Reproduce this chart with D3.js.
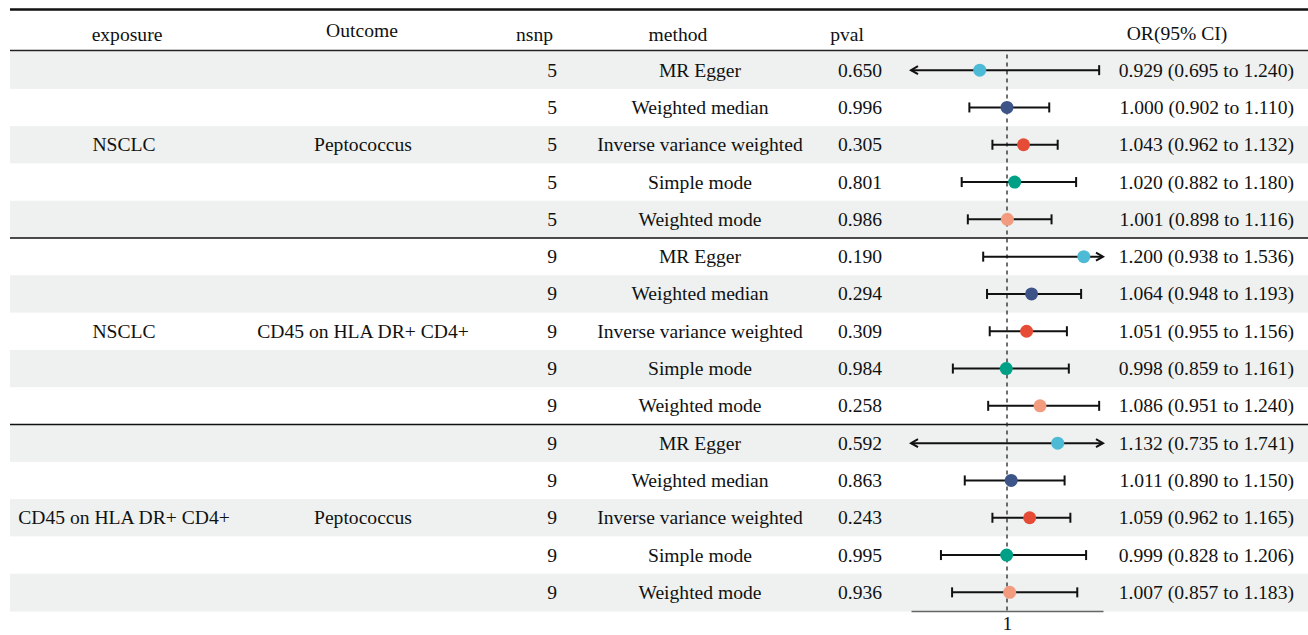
<!DOCTYPE html>
<html>
<head>
<meta charset="utf-8">
<script src="https://cdn.jsdelivr.net/npm/d3@7"></script>
<style>
  body { margin: 0; background: #fff; }
  svg text { font-family: "Liberation Serif", "Times New Roman", serif; fill: #111; }
</style>
</head>
<body>
<svg id="chart" width="1308" height="635"></svg>
<script>
"use strict";

// data
const exposures = ["NSCLC", "NSCLC", "CD45 on HLA DR+ CD4+"];
const outcomes = ["Peptococcus", "CD45 on HLA DR+ CD4+", "Peptococcus"];
const nsnps = [5, 9, 9];
const methods = ["MR Egger", "Weighted median", "Inverse variance weighted", "Simple mode", "Weighted mode"];
const methodColors = ["#4DBBD5", "#3C5488", "#E64B35", "#00A087", "#F39B7F"];

const pvals = [0.650, 0.996, 0.305, 0.801, 0.986,
               0.190, 0.294, 0.309, 0.984, 0.258,
               0.592, 0.863, 0.243, 0.995, 0.936];
const ors   = [0.929, 1.000, 1.043, 1.020, 1.001,
               1.200, 1.064, 1.051, 0.998, 1.086,
               1.132, 1.011, 1.059, 0.999, 1.007];
const lows  = [0.695, 0.902, 0.962, 0.882, 0.898,
               0.938, 0.948, 0.955, 0.859, 0.951,
               0.735, 0.890, 0.962, 0.828, 0.857];
const highs = [1.240, 1.110, 1.132, 1.180, 1.116,
               1.536, 1.193, 1.156, 1.161, 1.240,
               1.741, 1.150, 1.165, 1.206, 1.183];

const xDomain = [0.75, 1.25];

// build rows
let rows = [];
for (let g = 0; g < exposures.length; g++) {
    for (let m = 0; m < methods.length; m++) {
        let i = g * methods.length + m;
        rows.push({
            group: g, method: methods[m], color: methodColors[m], nsnp: nsnps[g],
            p: pvals[i], or: ors[i], lo: lows[i], hi: highs[i]
        });
    }
}

const svg = d3.select("#chart");
const leftX = 10, rightX = 1308;
const topY = 51.5, rowH = 37.3;
const fs = 19.6;

const y = d3.scaleBand().domain(d3.range(rows.length)).range([topY, topY + rowH * rows.length]).padding(0);
const x = d3.scaleLinear().domain(xDomain).range([911, 1103]);
const yc = i => y(i) + y.bandwidth() / 2;

// stripes
svg.append("g").selectAll("rect")
    .data(rows)
    .join("rect")
    .attr("x", leftX)
    .attr("y", (d, i) => y(i))
    .attr("width", rightX - leftX)
    .attr("height", y.bandwidth() + 0.5)
    .attr("fill", (d, i) => i % 2 === 0 ? "#EEF1F0" : "#fff");

// rules
svg.append("line").attr("x1", leftX).attr("x2", rightX).attr("y1", 9.5).attr("y2", 9.5)
    .attr("stroke", "#111").attr("stroke-width", 2.5);
svg.append("line").attr("x1", leftX).attr("x2", rightX).attr("y1", 50.5).attr("y2", 50.5)
    .attr("stroke", "#222").attr("stroke-width", 1.5);
for (let g = 1; g < exposures.length; g++) {
    let yy = y(g * methods.length);
    svg.append("line").attr("x1", leftX).attr("x2", rightX).attr("y1", yy).attr("y2", yy)
        .attr("stroke", "#111").attr("stroke-width", 1.5);
}

// headers
const headers = [
    {t: "exposure", x: 127, y: 41, a: "middle"},
    {t: "Outcome", x: 362, y: 37, a: "middle"},
    {t: "nsnp", x: 553, y: 41, a: "end"},
    {t: "method", x: 678, y: 41, a: "middle"},
    {t: "pval", x: 847, y: 41, a: "middle"},
    {t: "OR(95% CI)", x: 1177, y: 40, a: "middle"}
];
svg.append("g").selectAll("text")
    .data(headers)
    .join("text")
    .attr("x", d => d.x).attr("y", d => d.y)
    .attr("text-anchor", d => d.a)
    .attr("font-size", fs)
    .text(d => d.t);

// group labels
const groupG = svg.append("g");
exposures.forEach((e, g) => {
    let mid = yc(g * methods.length + 2) + 6.5;
    groupG.append("text").attr("x", 124).attr("y", mid).attr("text-anchor", "middle")
        .attr("font-size", fs).text(e);
    groupG.append("text").attr("x", 363).attr("y", mid).attr("text-anchor", "middle")
        .attr("font-size", fs).text(outcomes[g]);
});

// row text
const rowG = svg.append("g").selectAll("g")
    .data(rows)
    .join("g")
    .attr("transform", (d, i) => `translate(0, ${yc(i) + 6.5})`);

rowG.append("text").attr("x", 557).attr("text-anchor", "end").attr("font-size", fs).text(d => d.nsnp);
rowG.append("text").attr("x", 700).attr("text-anchor", "middle").attr("font-size", fs).text(d => d.method);
rowG.append("text").attr("x", 860).attr("text-anchor", "middle").attr("font-size", fs).text(d => d.p.toFixed(3));
rowG.append("text").attr("x", 1294).attr("text-anchor", "end").attr("font-size", fs)
    .text(d => `${d.or.toFixed(3)} (${d.lo.toFixed(3)} to ${d.hi.toFixed(3)})`);

// reference line at 1
svg.append("line")
    .attr("x1", x(1)).attr("x2", x(1))
    .attr("y1", topY + 3).attr("y2", topY + rowH * rows.length)
    .attr("stroke", "#222").attr("stroke-width", 1.3)
    .attr("stroke-dasharray", "4,4");

// CI bars
const [dMin, dMax] = xDomain;
const cap = 5, ah = 7;
const ciG = svg.append("g").selectAll("g")
    .data(rows)
    .join("g")
    .attr("transform", (d, i) => `translate(0, ${yc(i)})`);

ciG.each(function (d) {
    let g = d3.select(this);
    let x0 = x(Math.max(d.lo, dMin)), x1 = x(Math.min(d.hi, dMax));
    g.append("line").attr("x1", x0).attr("x2", x1).attr("y1", 0).attr("y2", 0)
        .attr("stroke", "#111").attr("stroke-width", 2);
    if (d.lo < dMin) {
        g.append("path").attr("d", `M${x0 + ah},${-4} L${x0},0 L${x0 + ah},${4}`)
            .attr("fill", "none").attr("stroke", "#111").attr("stroke-width", 2);
    } else {
        g.append("line").attr("x1", x0).attr("x2", x0).attr("y1", -cap).attr("y2", cap)
            .attr("stroke", "#111").attr("stroke-width", 2);
    }
    if (d.hi > dMax) {
        g.append("path").attr("d", `M${x1 - ah},${-4} L${x1},0 L${x1 - ah},${4}`)
            .attr("fill", "none").attr("stroke", "#111").attr("stroke-width", 2);
    } else {
        g.append("line").attr("x1", x1).attr("x2", x1).attr("y1", -cap).attr("y2", cap)
            .attr("stroke", "#111").attr("stroke-width", 2);
    }
    g.append("circle").attr("cx", x(d.or)).attr("cy", 0).attr("r", 6.5).attr("fill", d.color);
});

// axis
const axis = svg.append("g")
    .attr("transform", `translate(0, ${topY + rowH * rows.length})`)
    .call(d3.axisBottom(x).tickValues([1]).tickSize(0).tickPadding(5).tickFormat(d3.format("d")));
axis.select(".domain").attr("stroke", "#666").attr("stroke-width", 1.5);
axis.selectAll("text").attr("font-size", fs).attr("font-family", "Liberation Serif").attr("fill", "#111");
</script>
</body>
</html>
